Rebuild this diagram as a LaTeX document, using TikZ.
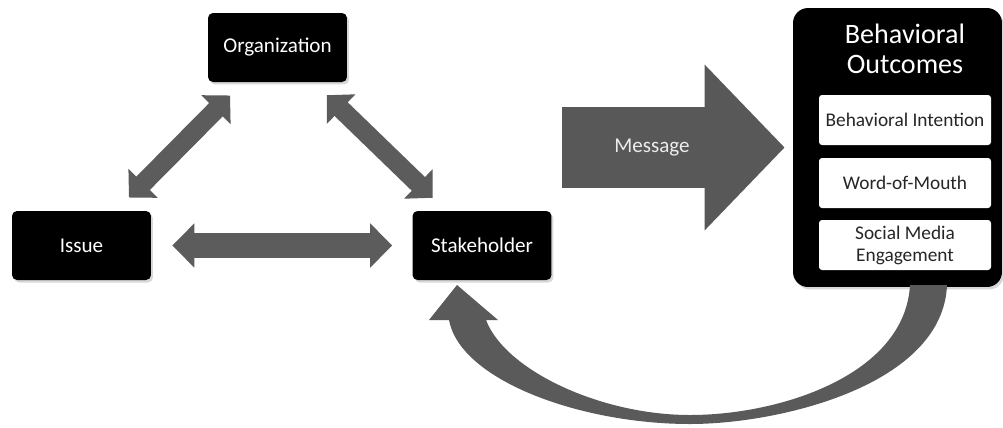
\documentclass[tikz,border=0pt]{standalone}
\usepackage{fontspec}
\setmainfont{Carlito}
\usetikzlibrary{arrows.meta,positioning,shadows}
\definecolor{arrowgray}{RGB}{92,92,92}
\definecolor{msggray}{RGB}{88,88,88}
\definecolor{loopgray}{RGB}{90,90,90}
\tikzset{
    box/.style={
        fill=black, text=white, rounded corners=0.1cm,
        minimum width=2.78cm, minimum height=1.38cm,
        font=\fontsize{12}{14}\selectfont,
        drop shadow={opacity=0.3, shadow xshift=0.04cm, shadow yshift=-0.05cm}
    },
    outcome/.style={
        fill=white, text=black!85, rounded corners=0.06cm,
        minimum width=3.44cm, minimum height=1.0cm, inner sep=1pt,
        align=center, font=\fontsize{11}{12.5}\selectfont
    },
    linkarrow/.style={
        arrowgray, line width=0.38cm,
        {Triangle[length=0.4cm,width=0.8cm]}-{Triangle[length=0.4cm,width=0.8cm]},
        shorten <=0.37cm, shorten >=0.37cm
    }
}

\begin{document}
\begin{tikzpicture}[x=0.02cm, y=-0.02cm]
\fill[white] (0,0) rectangle (1003,427);

% the three parties
\node[box] (org) at (277.5, 47.5) {Organization};
\node[box] (iss) at (81.5, 245.5) {Issue};
\node[box] (stk) at (482, 245.5) {Stakeholder};

% outcomes panel
\node[fill=black, rounded corners=0.3cm, minimum width=4.18cm, minimum height=5.58cm,
      drop shadow={opacity=0.3, shadow xshift=0.04cm, shadow yshift=-0.05cm}] (bo) at (897.5, 147.5) {};
\node[text=white, align=center, font=\fontsize{16}{17}\selectfont] (botitle) at (905, 49) {Behavioral\\Outcomes};
\node[outcome] (bi) at (905, 120) {Behavioral Intention};
\node[outcome] (wom) at (905, 183) {Word-of-Mouth};
\node[outcome] (sme) at (905, 245) {Social Media\\Engagement};

% links between the parties
\draw[linkarrow] (iss) -- (org);
\draw[linkarrow] (org) -- (stk);
\draw[linkarrow, line width=0.5cm,
      {Triangle[length=0.44cm,width=0.86cm]}-{Triangle[length=0.44cm,width=0.86cm]},
      shorten <=0.42cm, shorten >=0.4cm] (iss) -- (stk);

% message
\coordinate (msgtail) at (562, 147.5);
\draw[msggray, line width=1.62cm, -{Triangle[length=1.6cm,width=3.22cm]}, shorten >=0.16cm]
    (msgtail) -- (bo.west |- msgtail)
    node[pos=0.39, text=gray!15, font=\fontsize{12}{14}\selectfont] (msg) {Message};

% feedback loop back to the stakeholder
\fill[loopgray] (947,285) .. controls (943,385) and (780,424) .. (690,424)
    .. controls (580,424) and (460,380) .. (449,320) -- (429,320) -- (457,285)
    -- (498,320) -- (486,320) .. controls (505,370) and (600,415) .. (690,415)
    .. controls (780,415) and (905,375) .. (910,285) -- cycle;
\end{tikzpicture}
\end{document}
